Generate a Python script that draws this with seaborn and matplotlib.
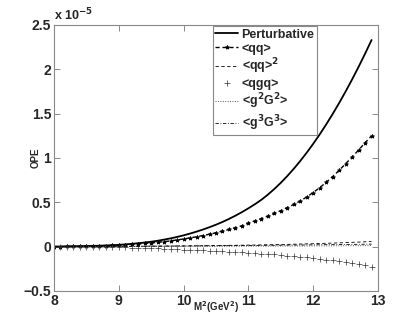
import numpy as np
import pandas as pd
import seaborn as sns
import matplotlib.pyplot as plt
from matplotlib.ticker import FuncFormatter

# Borel mass grid (GeV^2), values in units of 1e-5
m2 = np.round(np.arange(8.0, 12.95, 0.1), 1)

pert = [0.000, 0.001, 0.002, 0.003, 0.004, 0.006, 0.008, 0.010, 0.013, 0.016,
        0.020, 0.025, 0.031, 0.038, 0.046, 0.055, 0.066, 0.079, 0.093, 0.109,
        0.127, 0.147, 0.169, 0.193, 0.219, 0.247, 0.278, 0.312, 0.349, 0.389,
        0.432, 0.478, 0.528, 0.586, 0.650, 0.720, 0.796, 0.878, 0.966, 1.060,
        1.160, 1.266, 1.378, 1.496, 1.620, 1.750, 1.886, 2.028, 2.176, 2.330]
qq = [0.000, 0.001, 0.002, 0.003, 0.004, 0.005, 0.007, 0.009, 0.011, 0.014,
      0.017, 0.021, 0.025, 0.030, 0.035, 0.041, 0.048, 0.056, 0.065, 0.075,
      0.086, 0.098, 0.111, 0.125, 0.140, 0.156, 0.174, 0.193, 0.213, 0.235,
      0.265, 0.290, 0.316, 0.344, 0.374, 0.406, 0.440, 0.476, 0.515, 0.560,
      0.610, 0.665, 0.725, 0.790, 0.860, 0.935, 1.010, 1.090, 1.170, 1.250]
qq2 = [0.000, 0.000, 0.000, 0.001, 0.001, 0.001, 0.001, 0.002, 0.002, 0.002,
       0.003, 0.003, 0.003, 0.004, 0.004, 0.005, 0.005, 0.006, 0.006, 0.007,
       0.008, 0.008, 0.009, 0.010, 0.011, 0.012, 0.013, 0.014, 0.015, 0.016,
       0.017, 0.018, 0.019, 0.021, 0.022, 0.024, 0.025, 0.027, 0.029, 0.031,
       0.033, 0.035, 0.037, 0.040, 0.042, 0.045, 0.048, 0.051, 0.054, 0.058]
qgq = [0.000, -0.001, -0.001, -0.002, -0.002, -0.003, -0.004, -0.005, -0.006, -0.007,
       -0.008, -0.010, -0.011, -0.013, -0.015, -0.018, -0.020, -0.023, -0.026, -0.029,
       -0.033, -0.036, -0.039, -0.042, -0.046, -0.050, -0.054, -0.058, -0.062, -0.066,
       -0.070, -0.074, -0.079, -0.084, -0.089, -0.095, -0.101, -0.107, -0.114, -0.122,
       -0.130, -0.138, -0.146, -0.155, -0.164, -0.175, -0.186, -0.198, -0.212, -0.228]
g2G2 = [0.000, 0.000, 0.000, 0.000, 0.000, 0.000, 0.000, 0.001, 0.001, 0.001,
        0.001, 0.001, 0.001, 0.001, 0.001, 0.002, 0.002, 0.002, 0.002, 0.002,
        0.002, 0.003, 0.003, 0.003, 0.003, 0.003, 0.004, 0.004, 0.004, 0.004,
        0.005, 0.005, 0.005, 0.005, 0.006, 0.006, 0.006, 0.007, 0.007, 0.007,
        0.008, 0.008, 0.008, 0.009, 0.009, 0.010, 0.010, 0.011, 0.011, 0.012]
g3G3 = [0.000, 0.000, 0.001, 0.001, 0.001, 0.001, 0.002, 0.002, 0.002, 0.003,
        0.003, 0.003, 0.004, 0.004, 0.004, 0.005, 0.005, 0.006, 0.006, 0.007,
        0.007, 0.008, 0.008, 0.009, 0.009, 0.010, 0.010, 0.011, 0.011, 0.012,
        0.013, 0.013, 0.014, 0.015, 0.015, 0.016, 0.017, 0.018, 0.018, 0.019,
        0.020, 0.021, 0.022, 0.022, 0.023, 0.024, 0.025, 0.026, 0.027, 0.028]

labels = ["Perturbative", "<qq>", r"<qq>$^\mathbf{2}$", "<qgq>",
          r"<g$^\mathbf{2}$G$^\mathbf{2}$>", r"<g$^\mathbf{3}$G$^\mathbf{3}$>"]
series = [pert, qq, qq2, qgq, g2G2, g3G3]

sns.set_style("ticks")
plt.rcParams['font.family'] = ['Liberation Sans', 'DejaVu Sans']
plt.rcParams['font.weight'] = 'bold'
plt.rcParams['mathtext.default'] = 'bf'

fig = plt.figure(figsize=(4.15, 3.28), dpi=100)
ax = fig.add_axes([0.130, 0.113, 0.781, 0.811])

styles = [
    dict(color='black', linewidth=1.3, linestyle='-'),
    dict(color='black', linewidth=1.0, linestyle=(0, (3, 2)), marker='*',
         markersize=3, markeredgewidth=0.6, markeredgecolor='black'),
    dict(color='black', linewidth=0.6, linestyle=(0, (4, 3))),
    dict(color='black', linewidth=0, linestyle='', marker='+', markersize=4.5,
         markeredgewidth=0.5, markeredgecolor='#333333'),
    dict(color='#555555', linewidth=0.7, linestyle=(0, (1, 1.5))),
    dict(color='black', linewidth=0.6, linestyle=(0, (4, 2, 1, 2))),
]

for lab, vals, st in zip(labels, series, styles):
    df = pd.DataFrame({"M2": m2, "OPE": vals})
    sns.lineplot(data=df, x="M2", y="OPE", ax=ax, label=lab, **st)

ax.set_xlim(8, 13)
ax.set_ylim(-0.5, 2.5)
ax.set_xticks([8, 9, 10, 11, 12, 13])
ax.set_yticks([-0.5, 0, 0.5, 1, 1.5, 2, 2.5])
ax.yaxis.set_major_formatter(FuncFormatter(lambda v, p: f"{v:g}".replace('-', '\u2212')))
ax.tick_params(direction='in', length=4, width=0.6, color='#777777',
               labelsize=10, top=True, right=True, pad=2)
for lab in ax.get_xticklabels() + ax.get_yticklabels():
    lab.set_fontweight('bold')
for sp in ax.spines.values():
    sp.set_visible(True)
    sp.set_color('#888888')
    sp.set_linewidth(0.8)

ax.set_xlabel(r"M$^2$(GeV$^2$)", fontsize=7, fontweight='bold')
ax.xaxis.set_label_coords(0.5, -0.03)
ax.set_ylabel("OPE", fontsize=7, fontweight='bold')
ax.yaxis.set_label_coords(-0.04, 0.5)
ax.text(0.0, 1.005, r"x 10$^{-5}$", transform=ax.transAxes, fontsize=9,
        fontweight='bold', ha='left', va='bottom')

leg = ax.legend(loc='upper left', bbox_to_anchor=(0.49, 0.995), frameon=True,
                fancybox=False, edgecolor='#888888', framealpha=1,
                prop={'size': 9, 'weight': 'bold'}, handlelength=1.8,
                handletextpad=0.3, labelspacing=0.15, borderpad=0.2,
                borderaxespad=0)
leg.get_frame().set_linewidth(0.8)

fig.savefig("out.png", dpi=100)
